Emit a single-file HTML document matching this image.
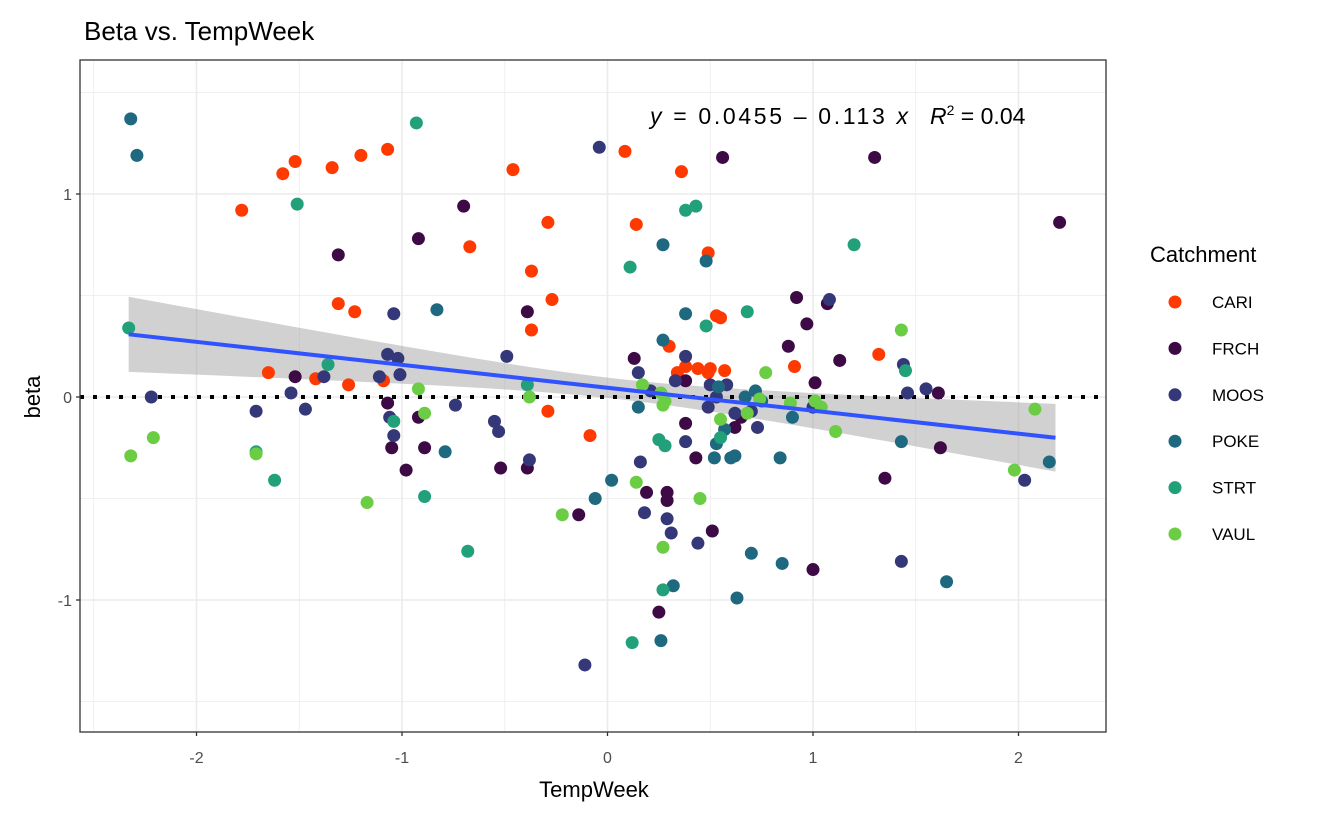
<!DOCTYPE html>
<html><head><meta charset="utf-8"><style>
body{margin:0;background:#fff}
svg{display:block;font-family:"Liberation Sans",Arial,sans-serif}
</style></head><body>
<svg id="chart" width="1322" height="817"></svg>
<script>
const groups=["CARI","FRCH","MOOS","POKE","STRT","VAUL"];
const colors=["#FF3A00","#3D0A45","#343879","#1E6880","#22A07A","#6BCD44"];
const cariX=[-1.78,-1.58,-1.52,-1.34,-1.20,-1.07,-0.46,0.085,0.36,-0.29,0.14,-0.67,-0.37,0.49,-0.27,-1.31,-1.23,-0.37,0.53,0.55,0.30,0.38,0.44,0.50,0.57,0.49,1.32,0.91,-1.65,-1.42,-1.26,-1.09,-0.29,-0.085,0.34];
const cariY=[0.92,1.10,1.16,1.13,1.19,1.22,1.12,1.21,1.11,0.86,0.85,0.74,0.62,0.71,0.48,0.46,0.42,0.33,0.40,0.39,0.25,0.15,0.14,0.14,0.13,0.12,0.21,0.15,0.12,0.09,0.06,0.08,-0.07,-0.19,0.12];
const frchX=[-1.31,-0.92,-0.70,0.56,1.30,2.20,-0.39,0.97,0.92,1.07,1.13,0.88,1.01,0.38,0.13,-1.52,-0.92,-1.05,-0.98,-0.89,-0.52,-0.39,-0.14,0.19,0.29,0.29,0.25,0.51,0.38,0.43,0.65,1.00,1.35,1.62,1.61,-1.07,0.62];
const frchY=[0.70,0.78,0.94,1.18,1.18,0.86,0.42,0.36,0.49,0.46,0.18,0.25,0.07,0.08,0.19,0.10,-0.10,-0.25,-0.36,-0.25,-0.35,-0.35,-0.58,-0.47,-0.47,-0.51,-1.06,-0.66,-0.13,-0.30,-0.10,-0.85,-0.40,-0.25,0.02,-0.03,-0.15];
const moosX=[-0.04,-1.04,-0.49,-1.07,-1.02,-1.01,1.44,1.46,2.03,1.43,1.08,0.50,0.38,0.58,0.15,0.16,0.18,0.29,0.31,0.44,0.38,0.70,0.73,0.62,0.21,-0.53,-0.38,-0.55,-0.74,-1.11,-1.38,-1.47,-1.54,-1.71,-2.22,-0.11,0.53,0.49,-1.06,-1.04,0.33,1.00,1.55];
const moosY=[1.23,0.41,0.20,0.21,0.19,0.11,0.16,0.02,-0.41,-0.81,0.48,0.06,0.20,0.06,0.12,-0.32,-0.57,-0.60,-0.67,-0.72,-0.22,-0.07,-0.15,-0.08,0.03,-0.17,-0.31,-0.12,-0.04,0.10,0.10,-0.06,0.02,-0.07,0.00,-1.32,0.00,-0.05,-0.10,-0.19,0.08,-0.05,0.04];
const pokeX=[-2.32,-2.29,-0.83,0.27,0.48,0.38,0.27,0.54,0.72,0.75,0.53,0.57,0.60,0.52,0.67,0.15,0.62,1.43,1.65,2.15,0.84,0.85,0.70,0.63,0.32,0.26,0.02,-0.06,-0.79,0.90];
const pokeY=[1.37,1.19,0.43,0.75,0.67,0.41,0.28,0.05,0.03,-0.02,-0.23,-0.16,-0.30,-0.30,0.00,-0.05,-0.29,-0.22,-0.91,-0.32,-0.30,-0.82,-0.77,-0.99,-0.93,-1.20,-0.41,-0.50,-0.27,-0.10];
const strtX=[-0.93,-1.51,0.38,0.43,0.11,1.20,0.68,0.48,-2.33,-1.36,1.45,-1.04,-1.71,-1.62,-0.89,-0.68,0.25,0.28,0.55,0.27,0.12,-0.39];
const strtY=[1.35,0.95,0.92,0.94,0.64,0.75,0.42,0.35,0.34,0.16,0.13,-0.12,-0.27,-0.41,-0.49,-0.76,-0.21,-0.24,-0.20,-0.95,-1.21,0.06];
const vaulX=[1.43,0.77,-0.92,-0.38,0.17,0.26,0.27,0.68,0.74,0.89,1.01,1.04,1.11,2.08,1.98,0.14,0.45,-0.22,0.27,-1.17,-0.89,-2.21,-2.32,-1.71,0.55,0.28];
const vaulY=[0.33,0.12,0.04,0.00,0.06,0.02,-0.04,-0.08,-0.01,-0.03,-0.02,-0.05,-0.17,-0.06,-0.36,-0.42,-0.50,-0.58,-0.74,-0.52,-0.08,-0.20,-0.29,-0.28,-0.11,-0.02];
const xTicks=[-2,-1,0,1,2];
const yTicks=[-1,0,1];
const fitIntercept=0.0455, fitSlope=-0.113, fitRange=[-2.33,2.18];

const NS="http://www.w3.org/2000/svg";
const svg=document.getElementById("chart");
const L=80,T=60,R=1106,B=732;
const sx=v=>607.5+v*205.5;
const sy=v=>397-v*203;
function el(tag,attrs,parent){const e=document.createElementNS(NS,tag);for(const k in attrs)e.setAttribute(k,attrs[k]);(parent||svg).appendChild(e);return e;}

const t=el("text",{x:84,y:40,"font-size":26,fill:"#000"});t.textContent="Beta vs. TempWeek";



const grid=el("g",{});


for(let v=-2.5;v<=2.5;v+=0.5){if(sx(v)<=L||sx(v)>=R)continue;const major=Math.abs(v-Math.round(v))<1e-6;el("line",{x1:sx(v),x2:sx(v),y1:T,y2:B,stroke:"#ebebeb","stroke-width":major?1.6:0.8},grid);}
for(let v=-1.5;v<=1.5;v+=0.5){const major=Math.abs(v-Math.round(v))<1e-6;el("line",{x1:L,x2:R,y1:sy(v),y2:sy(v),stroke:"#ebebeb","stroke-width":major?1.6:0.8},grid);}

const n=60;const xm=0.05;
const hw=x=>Math.sqrt(0.0025+0.0056*(x-xm)*(x-xm));
const fit=x=>fitIntercept+fitSlope*x;
let up=[],lo=[];
for(let i=0;i<=n;i++){const x=fitRange[0]+(fitRange[1]-fitRange[0])*i/n;up.push(sx(x)+","+sy(fit(x)+hw(x)));lo.unshift(sx(x)+","+sy(fit(x)-hw(x)));}
const rb=el("polygon",{points:up.concat(lo).join(" "),fill:"#999","fill-opacity":0.45});



const zl=el("line",{x1:L,x2:R,y1:sy(0),y2:sy(0),stroke:"#000","stroke-width":4,"stroke-dasharray":"4 9"});



const allX=[cariX,frchX,moosX,pokeX,strtX,vaulX],allY=[cariY,frchY,moosY,pokeY,strtY,vaulY];
groups.forEach((g,gi)=>{const gg=el("g",{});


allX[gi].forEach((x,i)=>{const c=el("circle",{cx:sx(x),cy:sy(allY[gi][i]),r:6.5,fill:colors[gi]},gg);

});});

const fl=el("line",{x1:sx(fitRange[0]),y1:sy(fit(fitRange[0])),x2:sx(fitRange[1]),y2:sy(fit(fitRange[1])),stroke:"#3052FF","stroke-width":4});



const border=el("rect",{x:L,y:T,width:R-L,height:B-T,fill:"none",stroke:"#333","stroke-width":1.3});



xTicks.forEach(v=>{el("line",{x1:sx(v),x2:sx(v),y1:B,y2:B+4,stroke:"#333","stroke-width":1.3});
const tx=el("text",{x:sx(v),y:763,"font-size":16,fill:"#4d4d4d","text-anchor":"middle"});tx.textContent=v;

});
yTicks.forEach(v=>{el("line",{x1:L-4,x2:L,y1:sy(v),y2:sy(v),stroke:"#333","stroke-width":1.3});
const tx=el("text",{x:72,y:sy(v)+6,"font-size":16,fill:"#4d4d4d","text-anchor":"end"});tx.textContent=v;

});

const xt=el("text",{x:594,y:797,"font-size":22,"text-anchor":"middle"});xt.textContent="TempWeek";


const yt=el("text",{x:40,y:397,"font-size":22,"text-anchor":"middle",transform:"rotate(-90 40 397)"});yt.textContent="beta";



const eq=el("text",{x:650,y:124,"font-size":23,textLength:258,lengthAdjust:"spacing"});


eq.innerHTML='<tspan font-style="italic">y</tspan> = 0.0455 – 0.113 <tspan font-style="italic">x</tspan>';
const r2=el("text",{x:930,y:124,"font-size":23});


r2.innerHTML='<tspan font-style="italic">R</tspan><tspan font-size="14" dy="-9">2</tspan><tspan dy="9"> = 0.04</tspan>';

const lg=el("g",{});


const lt=el("text",{x:1150,y:262,"font-size":22},lg);lt.textContent="Catchment";


groups.forEach((g,i)=>{const y=302+i*46.4;
const e=el("g",{},lg);


el("circle",{cx:1175,cy:y,r:6.5,fill:colors[i]},e);
const tx=el("text",{x:1212,y:y+6,"font-size":17},e);tx.textContent=g;});
</script>
</body></html>
